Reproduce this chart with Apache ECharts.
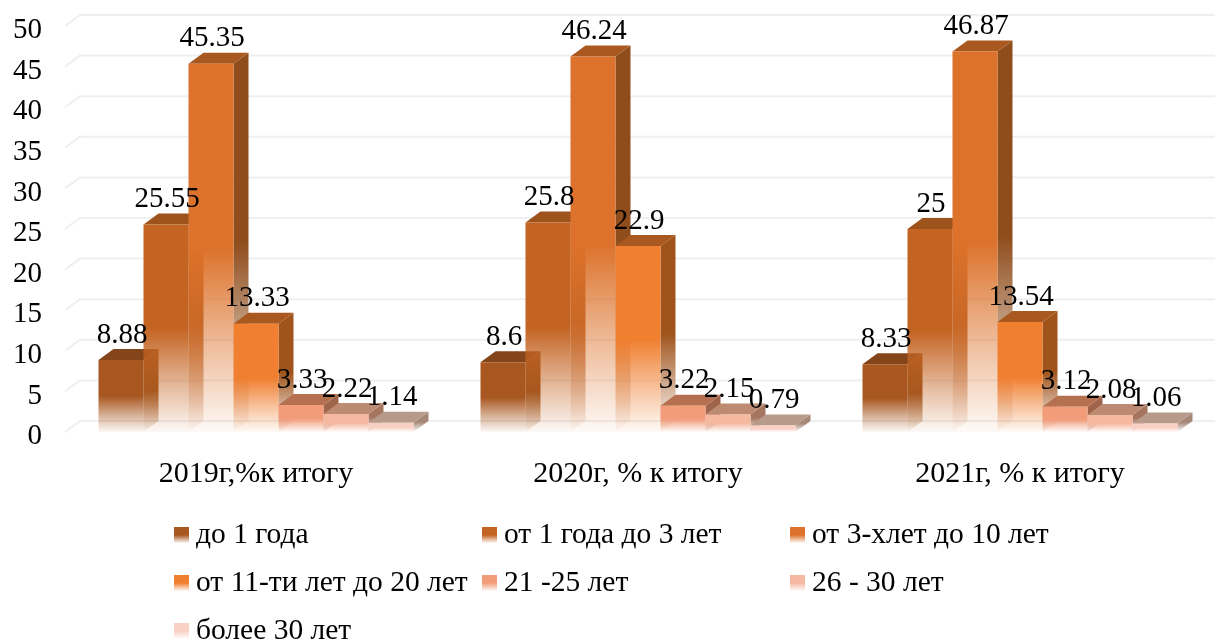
<!DOCTYPE html>
<html><head><meta charset="utf-8">
<style>html,body{margin:0;padding:0;background:#fff}#c{width:1215px;height:639px}</style>
<script src="https://cdn.jsdelivr.net/npm/echarts@6/dist/echarts.min.js"></script>
</head><body><div id="c"></div>
<script>
const categories = ['2019г,%к итогу', '2020г, % к итогу', '2021г, % к итогу'];
const seriesNames = ['до 1 года', 'от 1 года до 3 лет', 'от 3-хлет до 10 лет', 'от 11-ти лет до 20 лет', '21 -25 лет', '26 - 30 лет', 'более 30 лет'];
const upTo1 = [8.88, 8.6, 8.33];
const from1to3 = [25.55, 25.8, 25];
const from3to10 = [45.35, 46.24, 46.87];
const from11to20 = [13.33, 22.9, 13.54];
const from21to25 = [3.33, 3.22, 3.12];
const from26to30 = [2.22, 2.15, 2.08];
const over30 = [1.14, 0.79, 1.06];
const allValues = [upTo1, from1to3, from3to10, from11to20, from21to25, from26to30, over30];
const yTicks = [0, 5, 10, 15, 20, 25, 30, 35, 40, 45, 50];

const frontColors = [[168,87,32],[196,100,35],[220,114,43],[240,127,48],[242,156,122],[245,184,160],[249,208,196]];
const topColors   = ['#84451a','#9e521c','#a9591f','#a9591f','#b5704f','#bd8a72','#b89a8a'];
const sideColors  = [[149,80,28],[174,89,31],[143,77,28],[160,84,28],[160,100,74],[165,117,95],[165,135,120]];
const legendPos = [[174,520],[482,520],[790,520],[174,568],[482,568],[790,568],[174,616]];

const FONT = 'Liberation Serif';
const DX = 15, DY = -11, BAR_RATIO = 45 / 382;

function fade(c, end) {
  const s = c.join(',');
  return {type:'linear',x:0,y:0,x2:0,y2:1,colorStops:[
    {offset:0,color:`rgba(${s},1)`},
    {offset:0.5,color:`rgba(${s},1)`},
    {offset:0.75,color:`rgba(${s},0.5)`},
    {offset:1,color:`rgba(${s},${end})`}
  ]};
}
function barX(api, k, cat) {
  const w = api.size([1,0])[0] * BAR_RATIO;
  return {w, x: api.coord([cat,0])[0] + (k - 3.5) * w};
}
const series = [];
series.push({
  type:'custom', silent:true, z:1,
  data: yTicks.map(t => [0,t]), encode:{x:0,y:1},
  renderItem(params, api) {
    const y = api.coord([0, api.value(1)])[1];
    const cs = params.coordSys;
    return {type:'polyline', shape:{points:[[cs.x,y],[cs.x+DX,y+DY],[cs.x+cs.width+DX,y+DY]]},
      style:{stroke:'#efefef',lineWidth:2,fill:null}};
  }
});
allValues.forEach((vals,k) => {
  series.push({
    type:'custom', name:seriesNames[k], z:2+k,
    itemStyle:{color:fade(frontColors[k],0.04)},
    data: vals.map((v,i)=>[i,v]), encode:{x:0,y:1},
    renderItem(params, api) {
      const cat = api.value(0), v = api.value(1);
      const {w,x} = barX(api,k,cat);
      const y1 = api.coord([cat,v])[1], y0 = api.coord([cat,0])[1];
      return {type:'group', children:[
        {type:'polygon', shape:{points:[[x+w,y1],[x+w+DX,y1+DY],[x+w+DX,y0+DY],[x+w,y0]]}, style:{fill:fade(sideColors[k],0.01)}},
        {type:'polygon', shape:{points:[[x,y1],[x+DX,y1+DY],[x+w+DX,y1+DY],[x+w,y1]]}, style:{fill:topColors[k]}},
        {type:'rect', shape:{x,y:y1,width:w,height:y0-y1}, style:{fill:fade(frontColors[k],0.04)}}
      ]};
    }
  });
});
allValues.forEach((vals,k) => {
  series.push({
    type:'custom', silent:true, z:20,
    data: vals.map((v,i)=>[i,v]), encode:{x:0,y:1},
    renderItem(params, api) {
      const cat = api.value(0), v = api.value(1);
      const {w,x} = barX(api,k,cat);
      const y1 = api.coord([cat,v])[1];
      return {type:'text', style:{text:String(v), x:x+w/2+1, y:y1-25, align:'center', verticalAlign:'middle',
        font:`29px "${FONT}"`, fill:'#000'}};
    }
  });
});
const chart = echarts.init(document.getElementById('c'));
chart.setOption({
  animation:false,
  backgroundColor:'#fff',
  grid:{left:65,width:1146,top:26,height:406,containLabel:false},
  xAxis:{type:'category',data:categories,axisLine:{show:false},axisTick:{show:false},
    axisLabel:{color:'#000',fontFamily:FONT,fontSize:30,margin:27}},
  yAxis:{type:'value',min:0,max:50,interval:5,splitLine:{show:false},axisLine:{show:false},axisTick:{show:false},
    axisLabel:{color:'#000',fontFamily:FONT,fontSize:29,margin:23,formatter:'{a|{value}}',
      rich:{a:{color:'#000',fontFamily:FONT,fontSize:29,padding:[9,0,0,0]}}}},
  legend: seriesNames.map((n,k)=>({
    data:[n], left:legendPos[k][0], top:legendPos[k][1], padding:0, selectedMode:false,
    orient:'horizontal', icon:'rect', itemWidth:15, itemHeight:16,
    textStyle:{color:'#000',fontFamily:FONT,fontSize:29.5,padding:[0,0,0,2]}
  })),
  series
});
</script></body></html>
